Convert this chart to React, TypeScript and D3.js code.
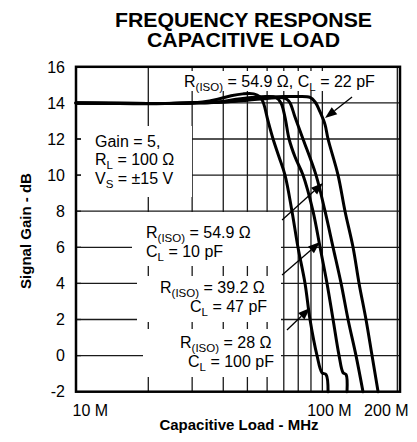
import React from 'react';
import * as d3 from 'd3';

// ---------- data ----------
const freqGrid = [20, 30, 40, 50, 60, 70, 80, 90, 100, 200];
const gainTicks = [-2, 0, 2, 4, 6, 8, 10, 12, 14, 16];
const gainGrid = [0, 2, 4, 6, 8, 10, 12, 14];
const xTickValues = [10, 100, 200];
const xTickLabels = ['10 M', '100 M', '200 M'];
const xTickDx = [17, 7, -11];

// [MHz, dB]
const curve100pF: [number, number][] = [
  [10.25, 14.0], [14, 13.97], [20, 13.95], [28, 14.0], [33, 14.05], [38, 14.2], [43, 14.4],
  [48, 14.5], [53, 14.5], [56, 14.35], [57.8, 14.05], [60.5, 13.0], [63.4, 12.0], [67.0, 11.0],
  [70.8, 10.0], [75.5, 8.0], [79.8, 6.0], [85.2, 4.0], [89.2, 2.0], [95.2, 0.0], [99.7, -0.95],
  [103.5, -1.05], [105.4, -2.0],
];
const curve47pF: [number, number][] = [
  [10.25, 14.0], [20, 13.97], [30, 14.0], [38, 14.05], [45, 14.2], [52, 14.3], [60, 14.35],
  [65, 14.3], [68.2, 14.0], [70.8, 13.2], [73.5, 12.0], [77.7, 11.0], [83.6, 10.0], [91.7, 8.0],
  [97.9, 6.0], [104.4, 4.0], [110.4, 2.0], [116.7, 0.0], [121.1, -0.95], [124.5, -1.05], [125.6, -2.0],
];
const curve10pF: [number, number][] = [
  [10.25, 14.0], [20, 13.97], [30, 14.0], [40, 14.05], [50, 14.15], [60, 14.25], [68, 14.3],
  [72, 14.2], [74.2, 14.0], [77.7, 13.2], [83.6, 12.0], [94.3, 10.0], [102.5, 8.0], [110.4, 6.0],
  [118.9, 4.0], [126.8, 2.0], [136.5, 0.0], [145.6, -2.0],
];
const curve22pF: [number, number][] = [
  [10.25, 14.0], [20, 13.97], [30, 14.0], [40, 14.05], [50, 14.2], [58, 14.3], [70, 14.35],
  [80, 14.35], [89.2, 14.3], [93.5, 14.05], [97.9, 13.5], [102.5, 12.8], [105.4, 12.0],
  [115.6, 10.0], [123.3, 8.0], [132.8, 6.0], [140.4, 4.0], [149.7, 2.0], [158.3, 0.0], [167.4, -2.0],
];
const curves = [curve100pF, curve47pF, curve10pF, curve22pF];

// arrows: [tailMHz, tailDb, tipMHz, tipDb]
const arrows: [number, number, number, number][] = [
  [131.6, 14.33, 102.5, 13.16],
  [68.9, 7.51, 100.6, 9.56],
  [68.9, 4.47, 97.9, 6.29],
  [72.1, 1.42, 89.2, 2.64],
];

// ---------- layout ----------
const W = 417, H = 442;
const L = 76, R = 400, T = 66.8, B = 391.7;
const FONT = 'Liberation Sans, Arial, Helvetica, sans-serif';

// white label boxes [x, y, w, h]
const boxes: [number, number, number, number][] = [
  [181, 71, 196, 20],
  [81, 126, 111, 71],
  [132, 212, 149, 54],
  [137, 276, 144, 46],
  [143, 329, 138, 48],
];

function Sub({ t }: { t: string }) {
  return null as any;
}

export default function App() {
  const x = d3.scaleLog().domain([10.25, 205]).range([L, R]);
  const y = d3.scaleLinear().domain([-2, 16]).range([B, T]);
  const line = d3
    .line<[number, number]>()
    .x((d) => x(d[0]))
    .y((d) => y(d[1]))
    .curve(d3.curveCatmullRom.alpha(0.5));

  const rich = (parts: [string, boolean][], px: number, py: number, key: string, anchor = 'start') => (
    <text key={key} x={px} y={py} fontSize={16} fontFamily={FONT} textAnchor={anchor} fill="#000">
      {parts.map(([s, sub], i) => {
        const prevSub = i > 0 && parts[i - 1][1];
        const dy = sub ? 4 : prevSub ? -4 : 0;
        return (
          <tspan key={i} dy={dy} fontSize={sub ? 11.5 : 16}>
            {s}
          </tspan>
        );
      })}
    </text>
  );

  return (
    <svg width={W} height={H} style={{ position: 'absolute', left: 0, top: 0, background: '#fff' }}>
      <rect x={0} y={0} width={W} height={H} fill="#fff" />
      {/* title */}
      <text x={243.5} y={26.7} textAnchor="middle" fontFamily={FONT} fontWeight="bold" fontSize={19.5}
        textLength={257} lengthAdjust="spacingAndGlyphs">FREQUENCY RESPONSE</text>
      <text x={243.5} y={46.5} textAnchor="middle" fontFamily={FONT} fontWeight="bold" fontSize={19.5}
        textLength={193} lengthAdjust="spacingAndGlyphs">CAPACITIVE LOAD</text>

      {/* grid */}
      <g stroke="#1a1a1a" strokeWidth={1.3}>
        {gainGrid.map((g) => (
          <line key={'h' + g} x1={L} x2={R} y1={y(g)} y2={y(g)} />
        ))}
        {freqGrid.map((f) => (
          <line key={'v' + f} x1={x(f)} x2={x(f)} y1={T} y2={B} />
        ))}
      </g>

      {/* label boxes */}
      {boxes.map((b, i) => (
        <rect key={'b' + i} x={b[0]} y={b[1]} width={b[2]} height={b[3]} fill="#fff" />
      ))}
      {/* inner left ticks */}
      <g stroke="#1a1a1a" strokeWidth={1.3}>
        {gainGrid.map((g) => (
          <line key={'t' + g} x1={L} x2={L + 5} y1={y(g)} y2={y(g)} />
        ))}
      </g>

      {/* annotations */}
      {rich([['R', false], ['(ISO)', true], [' = 54.9 Ω, C', false], ['L', true], [' = 22 pF', false]], 184, 87, 'a1')}
      {rich([['Gain = 5,', false]], 95, 146.5, 'g1')}
      {rich([['R', false], ['L', true], [' = 100 Ω', false]], 95, 165, 'g2')}
      {rich([['V', false], ['S', true], [' = ±15 V', false]], 95, 183.5, 'g3')}
      {rich([['R', false], ['(ISO)', true], [' = 54.9 Ω', false]], 146, 238, 'c1')}
      {rich([['C', false], ['L', true], [' = 10 pF', false]], 146, 257, 'c2')}
      {rich([['R', false], ['(ISO)', true], [' = 39.2 Ω', false]], 160, 293, 'd1')}
      {rich([['C', false], ['L', true], [' = 47 pF', false]], 190, 312, 'd2')}
      {rich([['R', false], ['(ISO)', true], [' = 28 Ω', false]], 180, 348, 'e1')}
      {rich([['C', false], ['L', true], [' = 100 pF', false]], 188, 367, 'e2')}

      {/* curves */}
      <g fill="none" stroke="#000" strokeWidth={3} strokeLinejoin="round" strokeLinecap="round">
        {curves.map((c, i) => (
          <path key={'c' + i} d={line(c) || ''} />
        ))}
      </g>

      {/* arrows */}
      {arrows.map((a, i) => {
        const x1 = x(a[0]), y1 = y(a[1]), x2 = x(a[2]), y2 = y(a[3]);
        const ang = Math.atan2(y2 - y1, x2 - x1);
        const len = 12, hw = 4.5;
        const bx = x2 - len * Math.cos(ang), by = y2 - len * Math.sin(ang);
        const px = -Math.sin(ang) * hw, py = Math.cos(ang) * hw;
        return (
          <g key={'ar' + i}>
            <line x1={x1} y1={y1} x2={bx} y2={by} stroke="#000" strokeWidth={1.3} />
            <polygon points={`${x2},${y2} ${bx + px},${by + py} ${bx - px},${by - py}`} fill="#000" />
          </g>
        );
      })}

      {/* frame */}
      <rect x={L} y={T} width={R - L} height={B - T} fill="none" stroke="#000" strokeWidth={2.5} />

      {/* y ticks */}
      {gainTicks.map((g) => (
        <text key={'yl' + g} x={65} y={y(g)} dy="0.36em" textAnchor="end" fontFamily={FONT} fontSize={16}>
          {g}
        </text>
      ))}
      {/* x ticks */}
      {xTickValues.map((f, i) => (
        <text key={'xl' + f} x={x(f) + xTickDx[i]} y={416} textAnchor="middle" fontFamily={FONT} fontSize={16}>
          {xTickLabels[i]}
        </text>
      ))}

      {/* axis titles */}
      <text x={239} y={430} textAnchor="middle" fontFamily={FONT} fontWeight="bold" fontSize={15}>
        Capacitive Load - MHz
      </text>
      <text transform="translate(31,231) rotate(-90)" textAnchor="middle" fontFamily={FONT} fontWeight="bold" fontSize={15}>
        Signal Gain - dB
      </text>
    </svg>
  );
}
